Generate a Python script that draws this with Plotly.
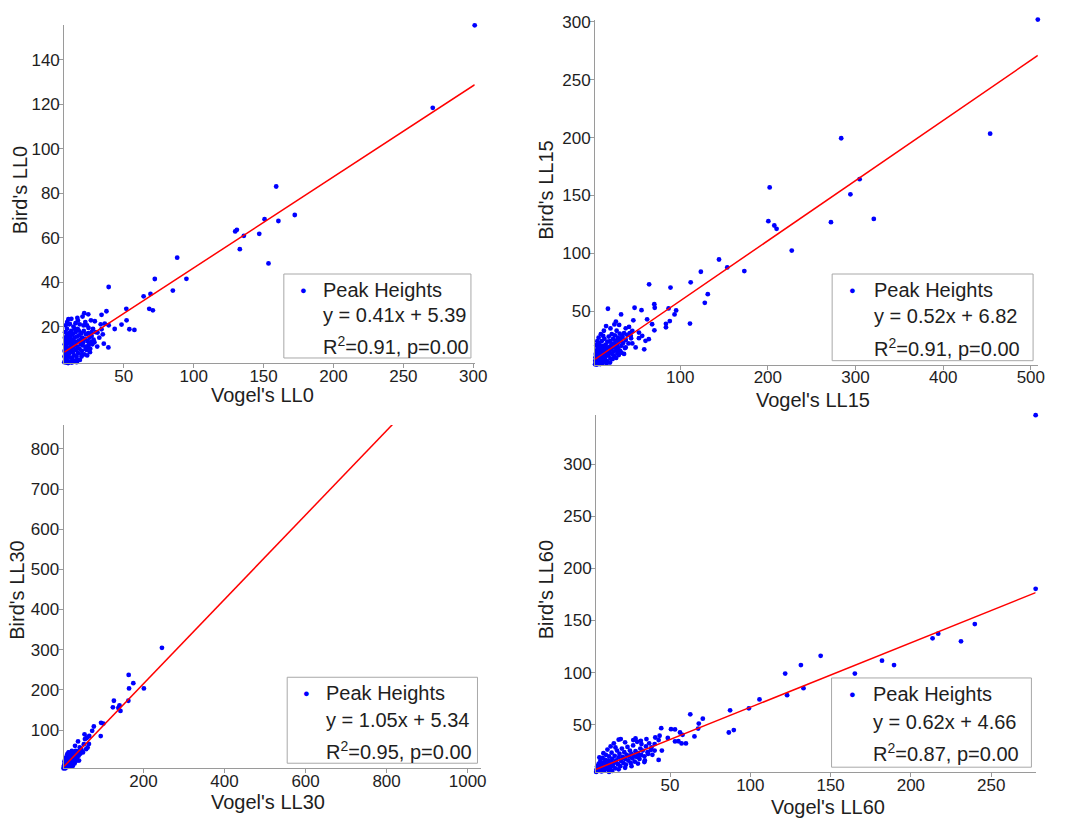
import plotly.graph_objects as go

# ---------------- data ----------------
ll0_points = [
    (301, 155.5), (271, 118.4), (159, 83), (150.7, 68.3), (160.6, 67.5), (172.3, 70.2),
    (129.7, 62.8), (130.9, 63.5), (135.9, 60.8), (146.9, 61.7), (133, 54.8), (153.5, 48.4),
    (88.2, 51), (94.8, 41.5), (85.1, 36.2), (72.2, 41.4), (69.1, 34.7), (64.2, 33.6),
    (68.2, 28), (70.8, 27.3), (39.2, 37.8), (51.8, 28.0), (52.0, 22.8), (54.0, 18.8),
    (57.6, 18.5), (48.4, 20.9), (43.5, 18.9), (39.2, 20.6), (37.6, 26.9), (34.1, 25.3),
    (36.4, 21.3), (34.1, 18.8), (39.0, 10.6), (35.7, 12.3), (31.2, 17.3), (29.3, 22.4),
    (26.5, 22.8), (24.6, 25.5), (21.7, 26.0), (23.7, 20.5), (24.8, 19.4), (27.0, 15.8),
    (28.4, 14.1), (24.6, 11.1), (22.7, 9.9), (19.9, 7.2), (16.6, 5.1), (10.4, 23.3),
    (11.4, 21.2), (16.8, 23.9), (17.2, 22.7),
    (7.5, 4.0), (7.6, 6.5), (7.7, 9.0), (7.8, 12.0), (7.9, 15.0), (8.0, 17.5), (8.1, 5.0),
    (8.3, 8.0), (8.5, 10.5), (8.6, 13.5), (8.8, 3.8), (9.0, 6.0), (9.1, 11.0), (9.3, 16.0),
    (9.4, 19.0), (9.6, 7.5), (9.8, 9.5), (10.0, 4.5), (10.1, 12.5), (10.3, 14.5), (10.5, 6.5),
    (10.7, 17.0), (10.9, 10.0), (11.0, 21.0), (11.2, 8.0), (11.4, 13.0), (11.6, 4.0),
    (11.8, 15.5), (12.0, 11.0), (12.2, 6.0), (12.4, 18.0), (12.6, 9.0), (12.8, 14.0),
    (13.0, 12.0), (13.2, 5.5), (13.4, 16.5), (13.6, 8.5), (13.8, 10.5), (14.0, 20.0),
    (14.2, 13.5), (14.5, 7.0), (14.7, 15.0), (15.0, 11.5), (15.2, 4.5), (15.4, 17.5),
    (15.7, 9.5), (16.0, 13.0), (16.2, 6.5), (16.5, 15.5), (16.8, 11.0), (17.0, 19.0),
    (17.3, 8.0), (17.6, 13.5), (18.0, 16.0), (18.3, 10.0), (18.6, 5.0), (19.0, 14.0),
    (19.3, 12.0), (19.6, 17.0), (20.0, 9.0), (20.3, 15.0), (20.6, 11.5), (21.0, 13.0),
    (21.4, 18.0), (21.8, 7.5), (22.2, 14.5), (22.6, 11.0), (23.0, 16.5), (23.5, 9.5),
    (24.0, 13.5), (24.5, 17.0), (25.0, 12.0), (25.5, 15.0), (26.0, 10.0), (26.5, 13.0),
    (27.0, 17.5), (27.5, 12.0), (28.0, 19.0), (29.0, 13.0), (30.0, 17.5), (31.0, 11.0),
    (32.5, 15.0), (33.5, 21.0), (35.0, 16.5), (9.5, 22.0), (12.5, 23.5), (15.5, 21.5),
    (18.5, 21.0), (20.5, 24.5), (22.5, 22.0), (8.4, 20.5), (10.2, 3.6), (12.9, 3.8),
    (14.8, 19.0), (16.3, 4.0), (17.8, 18.2), (19.8, 6.5), (21.2, 20.5), (23.8, 7.0), (25.8, 8.5),
]

ll15_points = [
    (508, 302), (453.6, 203.4), (283.7, 199.4), (304.7, 164), (294.2, 150.9), (320.9, 129.7),
    (272, 126.9), (202.1, 156.9), (200.6, 127.7), (207.4, 124), (210, 121.1), (227.3, 102.3),
    (173.2, 84.6), (153.7, 87.7), (144.3, 94.6), (123.6, 84), (112, 74.9), (131.5, 64.6),
    (128.1, 57.1), (111.2, 39.2), (89, 70.3), (86.8, 52.3), (95.4, 50.6), (93.6, 47.1),
    (64.6, 73.1), (71, 52.9), (70.5, 56), (17.6, 52), (48, 52.9), (55.9, 50.8), (83.8, 39),
    (83.8, 36), (62.3, 42.9), (68, 38.6), (32.6, 47.1), (46.6, 42), (70.6, 33.4), (88.2, 41.4),
    (26.7, 40.9), (30.4, 38), (37.9, 35.1), (41.7, 36.3), (45.4, 32.9), (53, 31.4),
    (56.7, 28.6), (60.5, 24.3), (59, 16.9), (49.2, 18.6), (37.9, 18.6), (45.4, 22),
    (34.2, 27.7), (30.4, 25.7), (64.2, 25.7), (53, 26.6), (43.6, 28.6),
    (3.0, 4.0), (3.2, 7.0), (3.5, 10.0), (3.8, 13.0), (4.0, 5.5), (4.2, 9.0), (4.5, 16.0),
    (4.8, 11.5), (5.0, 3.8), (5.2, 7.5), (5.5, 14.0), (5.8, 19.0), (6.0, 10.0), (6.3, 5.0),
    (6.6, 12.5), (7.0, 17.0), (7.3, 8.5), (7.6, 22.0), (8.0, 14.5), (8.3, 11.0), (8.6, 6.0),
    (9.0, 19.5), (9.3, 13.0), (9.6, 9.0), (10.0, 16.5), (10.4, 24.0), (10.8, 11.5),
    (11.2, 5.0), (11.6, 14.0), (12.0, 20.0), (12.4, 8.0), (12.8, 17.5), (13.2, 12.5),
    (13.6, 26.0), (14.0, 15.5), (14.5, 10.0), (15.0, 21.0), (15.5, 13.5), (16.0, 18.0),
    (16.5, 7.0), (17.0, 23.5), (17.5, 15.0), (18.0, 11.5), (18.5, 28.0), (19.0, 19.0),
    (19.5, 14.0), (20.0, 24.0), (20.5, 9.0), (21.0, 17.0), (21.5, 21.5), (22.0, 30.0),
    (22.5, 13.0), (23.0, 18.5), (23.5, 26.0), (24.0, 15.0), (24.5, 22.0), (25.0, 11.0),
    (25.5, 29.0), (26.0, 19.0), (26.5, 24.5), (27.0, 16.0), (27.5, 33.0), (28.0, 21.0),
    (28.5, 13.5), (29.0, 27.0), (29.5, 18.0), (30.0, 23.0), (31.0, 30.5), (31.5, 15.5),
    (32.0, 25.5), (33.0, 20.0), (34.0, 28.5), (35.0, 22.5), (36.0, 31.0), (37.0, 18.0),
    (38.0, 25.0), (39.5, 29.5), (41.0, 22.0), (42.5, 31.0), (44.0, 26.5), (13.0, 33.0),
    (15.5, 37.0), (9.5, 30.0), (7.0, 27.0), (20.5, 35.0), (25.0, 38.5), (5.5, 24.0),
    (11.0, 3.5), (16.0, 4.5), (14.0, 6.5), (20.0, 5.5), (23.0, 8.5), (27.0, 9.5),
    (30.0, 12.0), (33.0, 14.0), (36.0, 13.0), (6.5, 3.6), (8.8, 4.2), (4.4, 20.5), (12.2, 28.5),
]

ll30_points = [
    (1034, 860), (245.6, 304.8), (163.5, 237.2), (174.9, 216.7), (164.4, 203.6), (201, 203.6),
    (162.7, 173), (127, 173), (124.5, 156.7), (140.8, 161.6), (143.2, 147.6), (138, 155),
    (95.3, 118), (101, 116.2), (94.5, 85.1), (77.5, 108.9), (73.4, 98.2), (61.2, 81.7),
    (55.5, 77.7), (38.5, 71.8), (40.9, 24.2), (65.3, 65.4), (66.1, 85.2), (58.4, 79.5),
    (54.5, 89.3), (42.8, 56.6), (31.1, 60.7), (23.3, 48.4), (15.6, 44.3), (14, 36.1),
    (19.5, 32), (27.2, 40.2), (32.7, 48.4), (46.7, 50), (50.6, 44.3), (38.9, 40.2),
    (58.4, 52.5), (62.2, 56.6), (52.9, 64.8), (35, 23.8),
    (3.0, 4.5), (3.5, 8.0), (4.0, 12.0), (4.5, 6.0), (5.0, 10.0), (5.5, 15.0), (6.0, 7.5),
    (6.5, 18.0), (7.0, 12.5), (7.5, 5.0), (8.0, 20.0), (8.5, 14.0), (9.0, 9.0), (9.5, 24.0),
    (10.0, 16.5), (10.5, 11.0), (11.0, 27.0), (11.5, 19.0), (12.0, 13.5), (12.5, 30.0),
    (13.0, 22.0), (13.5, 8.5), (14.0, 17.0), (14.5, 26.0), (15.0, 12.0), (15.5, 20.5),
    (16.0, 33.0), (16.5, 15.0), (17.0, 24.0), (17.5, 29.0), (18.0, 18.5), (18.5, 11.0),
    (19.0, 36.0), (19.5, 22.5), (20.0, 27.5), (20.5, 16.0), (21.0, 31.0), (21.5, 40.0),
    (22.0, 20.0), (22.5, 25.5), (23.0, 34.0), (23.5, 14.0), (24.0, 29.5), (24.5, 22.0),
    (25.0, 38.0), (25.5, 18.5), (26.0, 32.0), (27.0, 26.0), (28.0, 42.0), (28.5, 21.0),
    (29.0, 35.5), (30.0, 30.0), (31.0, 45.0), (32.0, 25.5), (33.0, 38.5), (34.0, 33.0),
    (35.0, 47.0), (36.0, 29.0), (38.0, 42.0), (40.0, 36.0), (42.0, 48.0), (44.0, 41.0),
    (46.0, 53.0), (48.0, 45.5), (7.0, 28.0), (9.0, 32.0), (12.0, 40.0), (15.0, 44.0),
    (5.0, 22.0), (26.0, 11.0), (30.0, 17.0), (20.0, 9.0),
]

ll60_points = [
    (277.7, 347.3), (277.7, 180.5), (239.8, 146.6), (231.2, 130), (217, 137.4), (213.5, 132.9),
    (189.5, 107.2), (182, 111.4), (165.1, 99), (143.8, 116.1), (131.5, 107.2), (121.7, 99),
    (122.9, 78.3), (133.1, 85), (105.7, 74.2), (99.1, 65.6), (87.4, 63.7), (86.6, 42.4),
    (89.7, 44.7), (62.6, 59.9), (70.4, 55.7), (67.9, 51), (67.5, 46.2), (65.2, 38.6),
    (57.2, 31.9), (57.8, 40.2), (56.2, 42.4), (53.1, 33.8), (50.6, 45.6), (44.5, 46.6),
    (42.9, 16.1), (40.8, 37.6), (40.4, 31.3), (19.3, 36.1), (27.1, 35.1), (28.5, 36.7),
    (31.8, 34.4), (35.3, 36.1), (32.2, 31.3), (38.4, 28.1), (43.5, 39.3), (42.9, 35.1),
    (48.6, 37.1), (53.1, 45.4), (55.2, 34), (59.9, 31.9), (44.9, 25), (40.4, 25),
    (36.3, 21.8), (30.2, 18.6), (34.3, 15.5),
    (4.0, 4.5), (4.3, 7.0), (4.6, 10.0), (5.0, 5.5), (5.3, 8.5), (5.6, 12.5), (6.0, 4.2),
    (6.3, 7.5), (6.6, 15.0), (7.0, 9.5), (7.3, 5.0), (7.6, 11.5), (8.0, 18.0), (8.3, 8.0),
    (8.6, 13.5), (9.0, 6.0), (9.3, 10.5), (9.6, 16.0), (10.0, 21.0), (10.4, 9.0),
    (10.8, 12.5), (11.2, 7.0), (11.6, 15.5), (12.0, 19.5), (12.4, 11.0), (12.8, 8.5),
    (13.2, 14.0), (13.6, 23.0), (14.0, 17.0), (14.5, 10.0), (15.0, 13.0), (15.5, 20.0),
    (16.0, 8.0), (16.5, 15.5), (17.0, 25.0), (17.5, 12.0), (18.0, 18.5), (18.5, 22.0),
    (19.0, 10.0), (19.5, 15.0), (20.0, 27.0), (20.5, 19.0), (21.0, 13.0), (21.5, 23.5),
    (22.0, 17.0), (22.5, 11.5), (23.0, 21.0), (23.5, 28.5), (24.0, 15.5), (24.5, 19.5),
    (25.0, 25.0), (25.5, 13.0), (26.0, 22.0), (26.5, 17.5), (27.0, 30.0), (27.5, 20.0),
    (28.0, 14.5), (28.5, 24.5), (29.0, 19.0), (29.5, 33.5), (30.0, 22.5), (31.0, 17.0),
    (31.5, 27.0), (32.0, 21.0), (33.0, 25.0), (34.0, 19.5), (35.0, 29.0), (36.0, 23.5),
    (37.0, 32.0), (38.0, 25.5), (39.0, 21.0), (11.0, 26.0), (13.0, 29.0), (15.0, 32.0),
    (18.0, 35.5), (22.0, 33.0), (6.0, 18.5), (8.5, 22.5), (14.0, 5.5), (18.0, 7.0),
    (22.0, 8.5), (26.0, 10.0), (30.0, 12.5), (34.0, 14.0), (5.0, 3.8), (9.0, 4.0),
    (12.0, 4.5), (16.0, 28.0),
]

labels = ["LL0", "LL15", "LL30", "LL60"]
slopes = [0.41, 0.52, 1.05, 0.62]
intercepts = [5.39, 6.82, 5.34, 4.66]
r_squared = ["0.91", "0.91", "0.95", "0.87"]
p_values = ["0.00", "0.00", "0.00", "0.00"]
x_ticks = [[50, 100, 150, 200, 250, 300], [100, 200, 300, 400, 500],
           [200, 400, 600, 800, 1000], [50, 100, 150, 200, 250]]
y_ticks = [[20, 40, 60, 80, 100, 120, 140], [50, 100, 150, 200, 250, 300],
           [100, 200, 300, 400, 500, 600, 700, 800], [50, 100, 150, 200, 250, 300]]
x_ranges = [[7.4, 301], [2.9, 508], [2.7, 1034], [3.9, 277.7]]
y_ranges = [[3.5, 155.6], [3.7, 302], [4.4, 859], [4.3, 347.3]]
all_points = [ll0_points, ll15_points, ll30_points, ll60_points]

# ---------------- layout geometry (pixels) ----------------
W, H = 1078, 825
# plot boxes: left, right, top, bottom
boxes = [(65, 480.5, 18.3, 359.3), (602.3, 1050.5, 12.7, 360.7),
         (64.3, 487.3, 421.7, 768.0), (603.3, 1048.3, 411.7, 771.7)]
# legend boxes: left, right, top, bottom ; dot x ; text x ; line y's
legends = [
    (287.3, 476.7, 269.3, 354.0, 307.3, 325.0, (285, 311, 341)),
    (842.3, 1045.7, 269.3, 356.7, 862.7, 882.3, (285, 312, 343)),
    (290.7, 483.3, 676.0, 762.7, 310.7, 328.3, (692, 719, 750)),
    (841.7, 1044.0, 676.7, 766.7, 862.7, 881.7, (693, 721, 752)),
]
ytitle_pos = [(21, 185), (553, 185), (17, 588), (553, 588)]
xtitle_pos = [(266, 391), (823, 396), (271, 802), (838, 807)]

FONT = "Arial, 'Liberation Sans', sans-serif"
TXT = "#1e1e1e"
AX = "#9a9a9a"


def px(x):
    return x / W


def py(y):
    return 1 - y / H


fig = go.Figure()
layout = dict(width=W, height=H, margin=dict(l=0, r=0, t=0, b=0),
              paper_bgcolor="white", plot_bgcolor="white", showlegend=False,
              font=dict(family=FONT, color=TXT))
annotations = []
shapes = []

for i in range(4):
    n = "" if i == 0 else str(i + 1)
    xs = [p[0] for p in all_points[i]]
    ys = [p[1] for p in all_points[i]]
    fig.add_trace(go.Scatter(x=xs, y=ys, mode="markers", xaxis="x" + n, yaxis="y" + n,
                             marker=dict(color="#0000ff", size=4.8), cliponaxis=False,
                             name="Peak Heights"))
    x_line = [min(xs), max(xs)]
    y_line = [slopes[i] * v + intercepts[i] for v in x_line]
    fig.add_trace(go.Scatter(x=x_line, y=y_line, mode="lines", xaxis="x" + n, yaxis="y" + n,
                             line=dict(color="#ff0000", width=1.5), name="fit"))
    l, r, t, b = boxes[i]
    layout["xaxis" + n] = dict(domain=[px(l), px(r)], range=x_ranges[i], anchor="y" + n,
                               tickvals=x_ticks[i], ticks="outside", ticklen=4, tickcolor=AX,
                               ticklabelstandoff=-7,
                               showline=True, linecolor=AX, linewidth=1, showgrid=False,
                               zeroline=False, tickfont=dict(size=17, color=TXT, family=FONT))
    layout["yaxis" + n] = dict(domain=[py(b), py(t)], range=y_ranges[i], anchor="x" + n,
                               tickvals=y_ticks[i], ticks="outside", ticklen=4, tickcolor=AX,
                               ticklabelstandoff=-4,
                               showline=True, linecolor=AX, linewidth=1, showgrid=False,
                               zeroline=False, tickfont=dict(size=17, color=TXT, family=FONT))
    # axis titles
    annotations.append(dict(text="Bird's " + labels[i], x=px(ytitle_pos[i][0]), y=py(ytitle_pos[i][1]),
                            xref="paper", yref="paper", showarrow=False, textangle=-90,
                            font=dict(size=20, color=TXT, family=FONT),
                            xanchor="center", yanchor="middle"))
    annotations.append(dict(text="Vogel's " + labels[i], x=px(xtitle_pos[i][0]), y=py(xtitle_pos[i][1]),
                            xref="paper", yref="paper", showarrow=False,
                            font=dict(size=20, color=TXT, family=FONT),
                            xanchor="center", yanchor="middle"))
    # legend box
    ll, lr, lt, lb, dx, tx, lys = legends[i]
    shapes.append(dict(type="rect", xref="paper", yref="paper", x0=px(ll), x1=px(lr),
                       y0=py(lb), y1=py(lt), line=dict(color="#a8a8a8", width=1),
                       fillcolor="white", layer="above"))
    annotations.append(dict(text="●", x=px(dx), y=py(lys[0]), xref="paper", yref="paper",
                            showarrow=False, xanchor="center", yanchor="middle",
                            font=dict(size=11, color="#0000ff", family=FONT)))
    legend_lines = ["Peak Heights",
                    "y = %.2fx + %.2f" % (slopes[i], intercepts[i]),
                    "R<sup>2</sup>=%s, p=%s" % (r_squared[i], p_values[i])]
    for k, txt in enumerate(legend_lines):
        annotations.append(dict(text=txt, x=px(tx), y=py(lys[k]), xref="paper", yref="paper",
                                showarrow=False, xanchor="left", yanchor="middle",
                                font=dict(size=20, color=TXT, family=FONT)))

layout["annotations"] = annotations
layout["shapes"] = shapes
fig.update_layout(**layout)
fig.write_html("out.html", config={"displayModeBar": False},
               post_script="document.body.style.margin='0';document.body.style.padding='0';")
